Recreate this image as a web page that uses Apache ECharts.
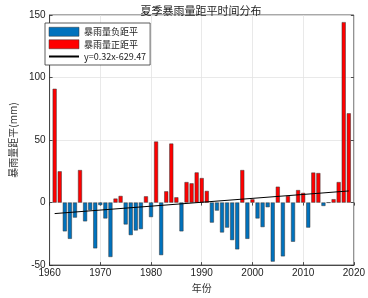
<!DOCTYPE html>
<html>
<head>
<meta charset="utf-8">
<script src="https://cdn.jsdelivr.net/npm/echarts@6/dist/echarts.min.js"></script>
<style>
  html, body { margin: 0; padding: 0; background: #fff; }
  #main { width: 368px; height: 298px; }
</style>
</head>
<body>
<div id="main"></div>
<script>
// 年份与距平值 (mm)
var years = [1961, 1962, 1963, 1964, 1965, 1966, 1967, 1968, 1969, 1970,
  1971, 1972, 1973, 1974, 1975, 1976, 1977, 1978, 1979, 1980,
  1981, 1982, 1983, 1984, 1985, 1986, 1987, 1988, 1989, 1990,
  1991, 1992, 1993, 1994, 1995, 1996, 1997, 1998, 1999, 2000,
  2001, 2002, 2003, 2004, 2005, 2006, 2007, 2008, 2009, 2010,
  2011, 2012, 2013, 2014, 2015, 2016, 2017, 2018, 2019];
var anomaly = [91, 25, -23, -29, -12, 26, -15, -6, -36.6, -2,
  -12.7, -43.5, 3.2, 5.3, -17.5, -26, -22.3, -21.2, 5, -11.6,
  48.8, -42, 9, 47.2, 4.2, -23, 16.4, 15.4, 24.1, 19.6,
  9.3, -16, -6.4, -23.9, -20, -30, -37.4, 26, -29, 2.6,
  -12.7, -19.6, -3.7, -47.2, 12.7, -43, 5.3, -31.3, 10, 7.7,
  -20, 24, 23.6, -2.7, 0, 2.7, 16.4, 144.3, 71.4];
// 趋势线端点
var trendYears = [1961, 2019];
var trendValues = [-8.8, 9.3];
var xTicks = [1960, 1970, 1980, 1990, 2000, 2010, 2020];
var yTicks = [-50, 0, 50, 100, 150];

var negData = [], posData = [];
years.forEach(function (y, i) {
  var v = anomaly[i];
  if (v < 0) { negData.push([y, v]); posData.push([y, null]); }
  else { posData.push([y, v]); negData.push([y, null]); }
});
var trendData = trendYears.map(function (y, i) { return [y, trendValues[i]]; });

var chart = echarts.init(document.getElementById('main'));
var tickStyle = { show: true, inside: true, length: 3, lineStyle: { color: '#262626', width: 0.8 } };
var option = {
  animation: false,
  title: {
    text: '夏季暴雨量距平时间分布',
    left: 196, top: 0, textAlign: 'center',
    textStyle: { fontSize: 11, fontWeight: 'normal', color: '#222', fontFamily: 'Noto Sans CJK SC' }
  },
  legend: {
    orient: 'vertical',
    left: 45, top: 23,
    itemWidth: 30, itemHeight: 9, itemGap: 3,
    padding: [4, 4, 4, 3],
    borderColor: '#333', borderWidth: 0.8,
    backgroundColor: '#fff',
    textStyle: { fontSize: 9, color: '#222', fontFamily: 'Noto Sans CJK SC' },
    data: [
      { name: '暴雨量负距平', icon: 'rect', itemStyle: { borderColor: '#333', borderWidth: 0.5 } },
      { name: '暴雨量正距平', icon: 'rect', itemStyle: { borderColor: '#333', borderWidth: 0.5 } },
      { name: 'y=0.32x-629.47', itemStyle: { opacity: 0 } }
    ]
  },
  grid: { left: 38, right: 12, top: 15, bottom: 32, show: true, borderColor: '#262626', borderWidth: 0.8 },
  xAxis: [{
    type: 'value', min: 1960, max: 2020, interval: 10,
    name: '年份', nameLocation: 'middle', nameGap: 16,
    nameTextStyle: { fontSize: 10, color: '#333', fontFamily: 'Noto Sans CJK SC' },
    axisLine: { show: true, onZero: false, lineStyle: { color: '#262626', width: 0.8 } },
    axisTick: tickStyle,
    axisLabel: { fontSize: 10, color: '#222', margin: 3, fontFamily: 'Liberation Sans',
      formatter: function (v) { return String(v); } },
    splitLine: { show: true, lineStyle: { color: '#e3e3e3', width: 0.8 } }
  }, {
    type: 'value', min: 1960, max: 2020, interval: 10, position: 'top',
    axisLine: { show: false }, axisTick: tickStyle, axisLabel: { show: false }, splitLine: { show: false }
  }],
  yAxis: [{
    type: 'value', min: -50, max: 150, interval: 50,
    name: '暴雨量距平(mm)', nameLocation: 'middle', nameGap: 26,
    nameTextStyle: { fontSize: 10, color: '#333', fontFamily: 'Noto Sans CJK SC' },
    axisLine: { show: true, lineStyle: { color: '#262626', width: 0.8 } },
    axisTick: tickStyle,
    axisLabel: { fontSize: 10, color: '#222', margin: 4, fontFamily: 'Liberation Sans' },
    splitLine: { show: true, lineStyle: { color: '#e3e3e3', width: 0.8 } }
  }, {
    type: 'value', min: -50, max: 150, interval: 50, position: 'right',
    axisLine: { show: false }, axisTick: tickStyle, axisLabel: { show: false }, splitLine: { show: false }
  }],
  series: [
    {
      name: '暴雨量负距平', type: 'bar', barWidth: 4, barGap: '-100%',
      itemStyle: { color: '#0072BD', borderColor: '#333', borderWidth: 0.5 },
      data: negData
    },
    {
      name: '暴雨量正距平', type: 'bar', barWidth: 4, barGap: '-100%',
      itemStyle: { color: '#FF0000', borderColor: '#333', borderWidth: 0.5 },
      data: posData
    },
    {
      name: 'y=0.32x-629.47', type: 'line', symbol: 'none',
      lineStyle: { color: '#000', width: 1 },
      itemStyle: { color: '#000' },
      data: trendData
    }
  ]
};
chart.setOption(option);
</script>
</body>
</html>
